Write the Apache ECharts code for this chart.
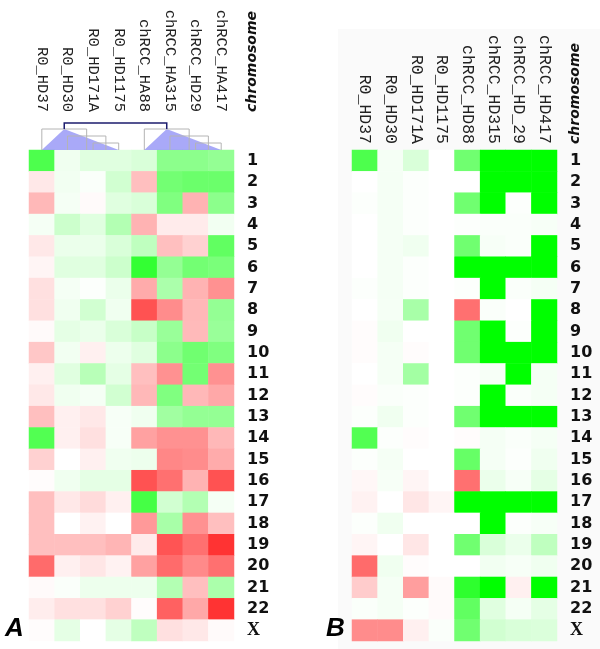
<!DOCTYPE html>
<html>
<head>
<meta charset="utf-8">
<script src="https://cdn.jsdelivr.net/npm/echarts@6/dist/echarts.min.js"></script>
<style>html,body{margin:0;padding:0;background:#fff}#c{width:600px;height:649px}</style>
</head>
<body>
<div id="c"></div>
<script>
const colsA = ['R0_HD37','R0_HD30','R0_HD171A','R0_HD1175','chRCC_HA88','chRCC_HA315','chRCC_HD29','chRCC_HA417'];
const colsB = ['R0_HD37','R0_HD30','R0_HD171A','R0_HD1175','chRCC_HD88','chRCC_HD315','chRCC_HD_29','chRCC_HD417'];
const rows = ['1','2','3','4','5','6','7','8','9','10','11','12','13','14','15','16','17','18','19','20','21','22','X'];

// log-ratio like values: negative = red, positive = green
const valuesA = [
  [ 0.70, 0.06, 0.12, 0.12, 0.15, 0.45, 0.45, 0.42],
  [-0.09, 0.05, 0.02, 0.18,-0.25, 0.55, 0.58, 0.58],
  [-0.28, 0.04,-0.02, 0.12, 0.15, 0.50,-0.30, 0.45],
  [ 0.04, 0.20, 0.12, 0.30,-0.30,-0.08,-0.08, 0.05],
  [-0.09, 0.08, 0.08, 0.15, 0.25,-0.25,-0.18, 0.62],
  [-0.04, 0.12, 0.12, 0.20, 0.80, 0.42, 0.55, 0.52],
  [-0.12, 0.04, 0.01, 0.08,-0.33, 0.33,-0.30,-0.43],
  [-0.12, 0.06, 0.18, 0.06,-0.68,-0.45,-0.28, 0.42],
  [-0.02, 0.10, 0.08, 0.15, 0.22, 0.40,-0.27, 0.40],
  [-0.22, 0.05,-0.06, 0.07, 0.12, 0.45, 0.56, 0.50],
  [-0.06, 0.12, 0.28, 0.10,-0.25,-0.43, 0.55,-0.43],
  [-0.09, 0.06, 0.04, 0.18,-0.28, 0.50,-0.28,-0.34],
  [-0.25,-0.06,-0.09, 0.03, 0.06, 0.37, 0.42, 0.42],
  [ 0.68,-0.06,-0.12, 0.03,-0.37,-0.43,-0.43,-0.28],
  [-0.18, 0.00,-0.06, 0.06, 0.07,-0.47,-0.45,-0.33],
  [-0.01, 0.06, 0.10, 0.10,-0.68,-0.56,-0.30,-0.68],
  [-0.25,-0.09,-0.14,-0.06, 0.73, 0.18, 0.30, 0.04],
  [-0.25, 0.00,-0.05, 0.00,-0.40, 0.34,-0.43,-0.25],
  [-0.25,-0.25,-0.25,-0.29,-0.08,-0.67,-0.56,-0.80],
  [-0.58,-0.06,-0.10,-0.05,-0.37,-0.58,-0.46,-0.56],
  [-0.02, 0.02, 0.07, 0.07, 0.07, 0.30,-0.25, 0.33],
  [-0.07,-0.12,-0.12,-0.18,-0.01,-0.62,-0.34,-0.80],
  [-0.01, 0.10, 0.00, 0.10, 0.25,-0.12,-0.09,-0.02]
];
const valuesB = [
  [ 0.70, 0.04, 0.15, 0.00, 0.56, 1.00, 1.00, 1.00],
  [ 0.00, 0.04, 0.01, 0.00, 0.00, 1.00, 1.00, 1.00],
  [ 0.01, 0.04, 0.01, 0.00, 0.56, 1.00, 0.01, 1.00],
  [ 0.00, 0.04, 0.01, 0.00, 0.01, 0.02, 0.02, 0.03],
  [ 0.00, 0.04, 0.06, 0.00, 0.56, 0.03, 0.02, 1.00],
  [ 0.00, 0.04, 0.01, 0.00, 1.00, 1.00, 1.00, 1.00],
  [ 0.01, 0.04, 0.01, 0.00, 0.01, 1.00, 0.02, 0.04],
  [ 0.00, 0.04, 0.34, 0.00,-0.56, 0.02, 0.00, 1.00],
  [-0.01, 0.06, 0.00, 0.00, 0.56, 1.00, 0.01, 1.00],
  [-0.01, 0.04,-0.01, 0.00, 0.56, 1.00, 1.00, 1.00],
  [ 0.00, 0.04, 0.36, 0.00, 0.01, 0.03, 1.00, 0.04],
  [-0.01, 0.02, 0.01, 0.00, 0.01, 1.00, 0.02, 0.04],
  [ 0.01, 0.06, 0.01, 0.00, 0.56, 1.00, 1.00, 1.00],
  [ 0.68, 0.01,-0.01, 0.00,-0.01, 0.04, 0.02, 0.04],
  [ 0.01, 0.04, 0.00, 0.00, 0.60, 0.04, 0.01, 0.06],
  [-0.03, 0.03,-0.04, 0.00,-0.56, 0.08, 0.03, 0.10],
  [-0.05, 0.00,-0.10,-0.04, 1.00, 1.00, 1.00, 1.00],
  [ 0.01, 0.06, 0.00, 0.00, 0.00, 1.00, 0.01, 0.03],
  [-0.04, 0.00,-0.10, 0.00, 0.56, 0.15, 0.08, 0.25],
  [-0.58, 0.06,-0.01, 0.00, 0.00, 0.05, 0.03, 0.06],
  [-0.20, 0.04,-0.38,-0.02, 0.82, 1.00,-0.06, 1.00],
  [ 0.02, 0.04, 0.01,-0.02, 0.62, 0.12, 0.04, 0.10],
  [-0.45,-0.45,-0.06, 0.02, 0.56, 0.18, 0.15, 0.14]
];
// dendrogram over panel A columns (indices)
const dendroA = [[0, [1, [2, 3]]], [4, [5, [6, 7]]]];

function toCells(vals) {
  const out = [];
  vals.forEach((r, yi) => r.forEach((v, xi) => out.push([xi, yi, v])));
  return out;
}

const chart = echarts.init(document.getElementById('c'), null, {renderer: 'canvas'});
const gridTop = 150, gridH = 491;
const rowLabel = {
  show: true, margin: 13, align: 'left', color: '#111',
  fontFamily: 'DejaVu Sans', fontWeight: 'bold', fontSize: 16,
  formatter: v => v === 'X' ? '{x|X}' : v,
  rich: { x: { fontFamily: 'Liberation Serif', fontWeight: 'bold', fontSize: 18, color: '#111' } }
};
function xAx(cols, gi, margin, size) {
  return {
    type: 'category', data: cols, gridIndex: gi, position: 'top',
    axisLine: {show: false}, axisTick: {show: false}, splitLine: {show: false},
    axisLabel: { rotate: 90, margin: margin, interval: 0, color: '#222',
      fontFamily: 'Liberation Mono', fontSize: size }
  };
}
function yAx(gi) {
  return {
    type: 'category', data: rows, gridIndex: gi, inverse: true, position: 'right',
    axisLine: {show: false}, axisTick: {show: false}, splitLine: {show: false},
    axisLabel: Object.assign({interval: 0}, rowLabel)
  };
}

chart.setOption({
  animation: false,
  backgroundColor: '#ffffff',
  grid: [
    {left: 29, top: gridTop, width: 205, height: gridH},
    {left: 352, top: gridTop, width: 205, height: gridH}
  ],
  xAxis: [xAx(colsA, 0, 38, 15.5), xAx(colsB, 1, 6, 16.5)],
  yAxis: [yAx(0), yAx(1)],
  visualMap: {
    type: 'continuous', show: false, min: -1, max: 1, seriesIndex: [0, 1],
    inRange: {color: ['#ff0000', '#ffffff', '#00ff00']}
  },
  series: [
    {type: 'heatmap', xAxisIndex: 0, yAxisIndex: 0, data: toCells(valuesA), itemStyle: {borderWidth: 0}, emphasis: {disabled: true}},
    {type: 'heatmap', xAxisIndex: 1, yAxisIndex: 1, data: toCells(valuesB), itemStyle: {borderWidth: 0}, emphasis: {disabled: true}}
  ]
});

// Dendrogram and annotations
const graphics = [];
graphics.push({type: 'rect', z: -10, shape: {x: 338, y: 29, width: 262, height: 620}, style: {fill: '#fafafa'}, silent: true});
const levelOffsets = [27, 21, 14, 7];
const px = i => chart.convertToPixel({xAxisIndex: 0}, colsA[i]);
const tris = [], lines = [];
function leaves(n) { return typeof n === 'number' ? [n] : leaves(n[0]).concat(leaves(n[1])); }
function build(node, depth) {
  if (typeof node === 'number') return {x: px(node), y: gridTop};
  const l = build(node[0], depth + 1), r = build(node[1], depth + 1);
  const y = gridTop - levelOffsets[depth];
  const col = depth === 0 ? '#1c1c6e' : '#b4b4b4';
  const bottomL = depth === 0 ? l.y : gridTop, bottomR = depth === 0 ? r.y : gridTop;
  lines.push({type: 'polyline', z: depth === 0 ? 12 : 11,
    shape: {points: [[l.x, bottomL], [l.x, y], [r.x, y], [r.x, bottomR]]},
    style: {stroke: col, lineWidth: depth === 0 ? 1.5 : 1, fill: null}, silent: true});
  if (depth === 1) {
    const lv = leaves(node);
    tris.push({type: 'polygon', z: 10,
      shape: {points: [[px(lv[0]), gridTop], [(l.x + r.x) / 2, y], [px(lv[lv.length - 1]), gridTop]]},
      style: {fill: 'rgba(140,140,245,0.75)'}, silent: true});
  }
  return {x: (l.x + r.x) / 2, y: y};
}
build(dendroA, 0);
graphics.push(...tris, ...lines);

function chromLabel(x, bottom) {
  return {type: 'text', x: x, y: bottom, rotation: Math.PI / 2, silent: true,
    style: {text: 'chromosome', font: 'italic bold 14px "DejaVu Sans"', fill: '#111',
      align: 'left', verticalAlign: 'middle'}};
}
graphics.push(chromLabel(252, 112), chromLabel(575, 144));
graphics.push({type: 'text', x: 5, y: 642, silent: true,
  style: {text: 'A', font: 'italic bold 26px "Liberation Sans"', fill: '#000', verticalAlign: 'bottom'}});
graphics.push({type: 'text', x: 326, y: 642, silent: true,
  style: {text: 'B', font: 'italic bold 26px "Liberation Sans"', fill: '#000', verticalAlign: 'bottom'}});

chart.setOption({graphic: graphics});
</script>
</body>
</html>
